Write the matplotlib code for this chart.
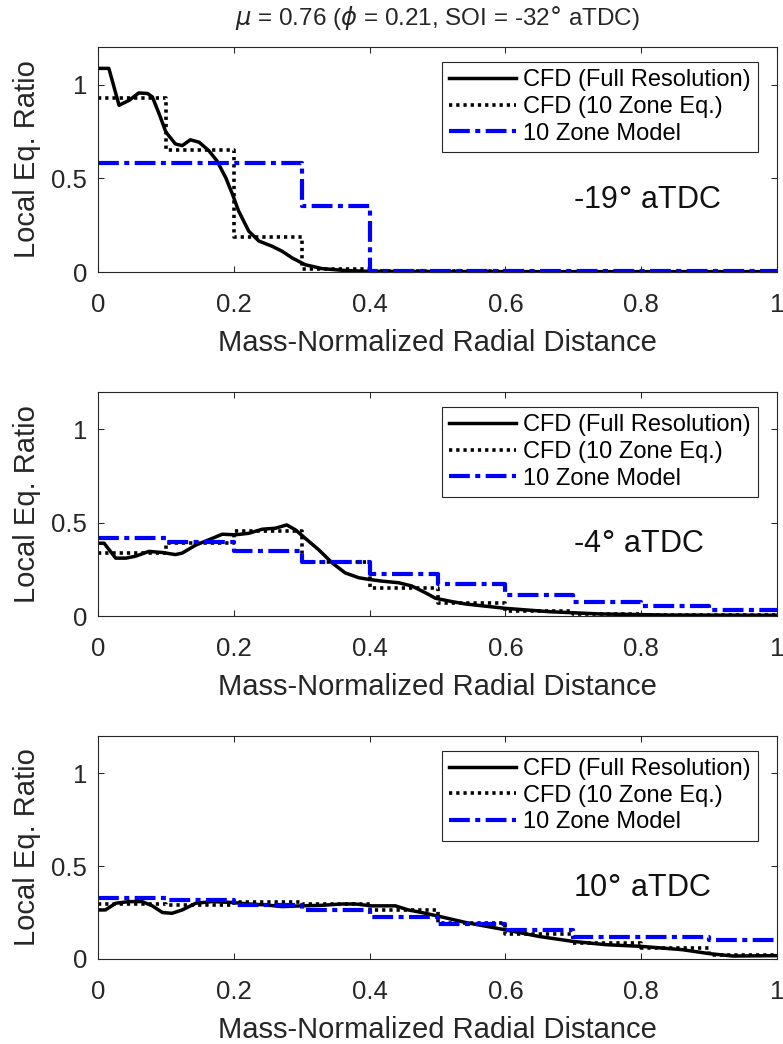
import matplotlib
matplotlib.use("Agg")
import matplotlib.pyplot as plt
import numpy as np

plt.rcParams["font.family"] = ["Liberation Sans", "DejaVu Sans"]
plt.rcParams["mathtext.fontset"] = "dejavusans"

# ---- data -------------------------------------------------------------
zone_edges = [0.0, 0.1, 0.2, 0.3, 0.4, 0.5, 0.6, 0.7, 0.8, 0.9, 1.0]

# -19 deg aTDC
full_x_m19 = [0, 0.016, 0.031, 0.046, 0.060, 0.073, 0.080, 0.090, 0.100, 0.114,
              0.124, 0.136, 0.149, 0.163, 0.175, 0.188, 0.198, 0.207, 0.222, 0.237,
              0.256, 0.271, 0.286, 0.305, 0.330, 0.360, 0.394, 0.45, 0.6, 0.8, 1.0]
full_y_m19 = [1.086, 1.086, 0.889, 0.916, 0.955, 0.952, 0.934, 0.844, 0.746, 0.683,
              0.674, 0.705, 0.692, 0.648, 0.594, 0.504, 0.415, 0.326, 0.218, 0.165,
              0.138, 0.111, 0.075, 0.039, 0.018, 0.009, 0.004, 0.003, 0.002, 0.002, 0.002]
zone_eq_m19 = [0.93, 0.65, 0.185, 0.015, 0.004, 0.003, 0.002, 0.002, 0.002, 0.002]
model_m19 = [0.58, 0.58, 0.58, 0.35, 0.005, 0.005, 0.005, 0.005, 0.005, 0.005]

# -4 deg aTDC
full_x_m4 = [0, 0.009, 0.026, 0.041, 0.055, 0.075, 0.095, 0.114, 0.124, 0.144,
             0.163, 0.183, 0.202, 0.222, 0.242, 0.261, 0.278, 0.291, 0.305, 0.325,
             0.345, 0.364, 0.384, 0.399, 0.418, 0.443, 0.462, 0.482, 0.497, 0.52,
             0.542, 0.6, 0.665, 0.739, 0.837, 1.0]
full_y_m4 = [0.39, 0.39, 0.31, 0.31, 0.32, 0.346, 0.34, 0.329, 0.337, 0.38,
             0.408, 0.438, 0.435, 0.443, 0.465, 0.47, 0.488, 0.461, 0.417, 0.355,
             0.284, 0.231, 0.205, 0.196, 0.187, 0.178, 0.161, 0.125, 0.095, 0.078,
             0.064, 0.041, 0.023, 0.011, 0.005, 0.004]
zone_eq_m4 = [0.34, 0.39, 0.455, 0.29, 0.152, 0.072, 0.025, 0.01, 0.005, 0.003]
model_m4 = [0.42, 0.394, 0.35, 0.288, 0.226, 0.17, 0.11, 0.076, 0.051, 0.034]

# 10 deg aTDC
full_x_p10 = [0, 0.011, 0.026, 0.046, 0.065, 0.080, 0.095, 0.109, 0.124, 0.144,
              0.168, 0.198, 0.222, 0.247, 0.271, 0.300, 0.330, 0.359, 0.379, 0.403,
              0.438, 0.457, 0.477, 0.503, 0.542, 0.6, 0.65, 0.699, 0.748, 0.8,
              0.861, 0.9, 0.935, 1.0]
full_y_p10 = [0.264, 0.264, 0.30, 0.309, 0.309, 0.286, 0.25, 0.246, 0.264, 0.30,
              0.309, 0.304, 0.296, 0.291, 0.282, 0.286, 0.289, 0.296, 0.296, 0.286,
              0.286, 0.264, 0.25, 0.229, 0.196, 0.157, 0.121, 0.095, 0.077, 0.068,
              0.05, 0.029, 0.016, 0.018]
zone_eq_p10 = [0.295, 0.29, 0.305, 0.295, 0.264, 0.195, 0.135, 0.085, 0.06, 0.02]
model_p10 = [0.327, 0.318, 0.291, 0.265, 0.227, 0.188, 0.157, 0.121, 0.118, 0.10]

panel_labels = [r"-19$\degree$ aTDC", r"-4$\degree$ aTDC", r"10$\degree$ aTDC"]
series_labels = ["CFD (Full Resolution)", "CFD (10 Zone Eq.)", "10 Zone Model"]
x_ticks = [0, 0.2, 0.4, 0.6, 0.8, 1.0]
x_tick_labels = ["0", "0.2", "0.4", "0.6", "0.8", "1"]
y_ticks = [0, 0.5, 1.0]
y_tick_labels = ["0", "0.5", "1"]

panels = [
    (full_x_m19, full_y_m19, zone_eq_m19, model_m19),
    (full_x_m4, full_y_m4, zone_eq_m4, model_m4),
    (full_x_p10, full_y_p10, zone_eq_p10, model_p10),
]

# ---- figure -----------------------------------------------------------
W, H = 783, 1044
fig = plt.figure(figsize=(W / 100, H / 100), dpi=100)
frame_gray = "#262626"

axes_px = [(47, 272), (392, 616), (736, 959)]  # top, bottom in pixels
left_px, right_px = 98, 777

for (top, bot), (fx, fy, zeq, zm), plabel in zip(axes_px, panels, panel_labels):
    ax = fig.add_axes([left_px / W, 1 - bot / H, (right_px - left_px) / W, (bot - top) / H])

    ax.plot(fx, fy, color="black", lw=2.5, solid_joinstyle="round",
            label=series_labels[0])
    ax.step(zone_edges, list(zeq) + [zeq[-1]], where="post", color="black",
            lw=2.6, linestyle=(0, (0.9, 1.1)), dash_capstyle="butt",
            label=series_labels[1])
    ax.step(zone_edges, list(zm) + [zm[-1]], where="post", color="#0000ff",
            lw=3, linestyle=(0, (5, 1.3, 1.2, 1.3)), dash_capstyle="butt",
            label=series_labels[2], clip_on=False)

    ax.set_xlim(0, 1)
    ax.set_ylim(0, 1.2)
    ax.set_xticks(x_ticks)
    ax.set_xticklabels(x_tick_labels)
    ax.set_yticks(y_ticks)
    ax.set_yticklabels(y_tick_labels)
    ax.tick_params(direction="in", length=4.5, width=0.75, top=True, right=True,
                   color=frame_gray, labelcolor=frame_gray, labelsize=18.5)
    ax.tick_params(axis="x", pad=15)
    ax.tick_params(axis="y", pad=8)
    for sp in ax.spines.values():
        sp.set_color(frame_gray)
        sp.set_linewidth(0.8)

    ax.set_xlabel("Mass-Normalized Radial Distance", fontsize=21,
                  color=frame_gray, labelpad=9)
    ax.set_ylabel("Local Eq. Ratio", fontsize=21, color=frame_gray, labelpad=7)

    leg = ax.legend(loc="upper right", bbox_to_anchor=(0.972, 0.933),
                    borderaxespad=0, fontsize=17, handlelength=2.85,
                    handletextpad=0.3, labelspacing=0.2, borderpad=0.3,
                    fancybox=False, framealpha=1, edgecolor=frame_gray)
    leg.get_frame().set_linewidth(0.8)

    ax.text(0.70, 0.384, plabel, fontsize=22, ha="left", va="center",
            color="#111111")

fig.text((left_px + right_px) / 2 / W, 1 - 18 / H,
         r"$\mu$ = 0.76 ($\phi$ = 0.21, SOI = -32$\degree$ aTDC)",
         fontsize=17.5, ha="center", va="center", color=frame_gray)

fig.savefig("out.png", dpi=100)
